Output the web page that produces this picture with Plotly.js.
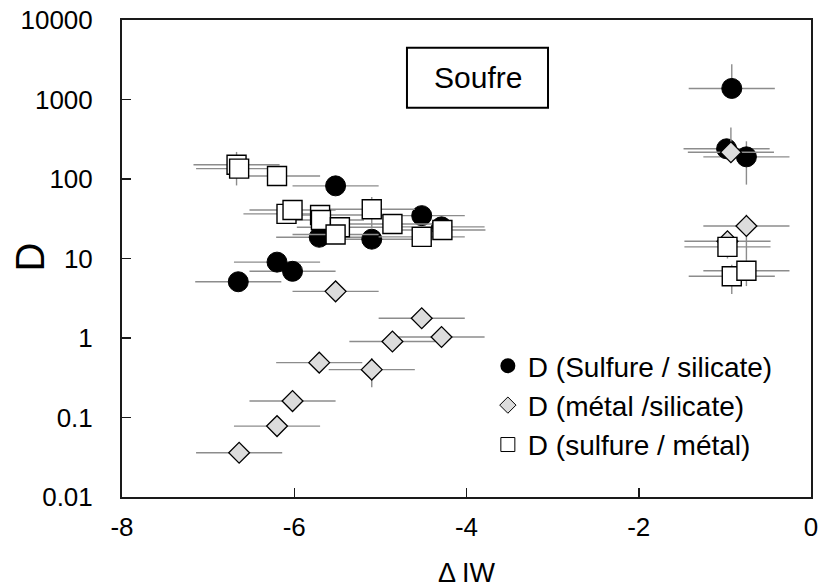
<!DOCTYPE html>
<html>
<head>
<meta charset="utf-8">
<script src="https://cdn.plot.ly/plotly-3.0.1.min.js"></script>
<style>html,body{margin:0;padding:0;background:#fff;}#chart{width:821px;height:588px;}</style>
</head>
<body>
<div id="chart"></div>
<script>
// D (Sulfure / silicate) – filled circles
const sulfSilX = [-6.65, -6.20, -6.02, -5.71, -5.52, -5.10, -4.52, -4.29, -0.98, -0.92, -0.75];
const sulfSilY = [5.1, 9.0, 6.9, 18.5, 82, 17.5, 34.6, 25, 240, 1378, 190];
const sulfSilXErr = [0.5, 0.5, 0.5, 0.5, 0.5, 0.5, 0.5, 0.5, 0.5, 0.5, 0.5];
const sulfSilYErrPlus = [0, 0, 0, 0, 0, 0, 0, 0, 0, 1400, 108];
const sulfSilYErrMinus = [0, 0, 0, 0, 0, 0, 0, 0, 0, 0, 105];

// D (métal /silicate) – grey diamonds
const metSilX = [-6.64, -6.20, -6.02, -5.71, -5.52, -5.10, -4.86, -4.52, -4.29, -0.97, -0.93, -0.75];
const metSilY = [0.036, 0.078, 0.161, 0.49, 3.86, 0.40, 0.905, 1.77, 1.03, 16.5, 217, 25.6];
const metSilXErr = [0.5, 0.5, 0.5, 0.5, 0.5, 0.5, 0.5, 0.5, 0.5, 0.5, 0.5, 0.5];
const metSilYErrPlus = [0, 0, 0, 0, 0, 0.16, 0, 0, 0, 0, 226, 10];
const metSilYErrMinus = [0, 0, 0, 0, 0, 0.16, 0, 0, 0, 0, 0, 16];

// D (sulfure / métal) – open squares
const sulfMetX = [-6.67, -6.64, -6.20, -6.09, -6.02, -5.70, -5.69, -5.47, -5.52, -5.10, -4.86, -4.52, -4.28, -0.97, -0.92, -0.75];
const sulfMetY = [151, 135, 109, 36.4, 40.8, 35.3, 30.5, 24.7, 20, 41.7, 27.2, 18.7, 22.8, 14.0, 5.97, 7.0];
const sulfMetXErr = [0.5, 0.5, 0.5, 0.5, 0.5, 0.5, 0.5, 0.5, 0.5, 0.5, 0.5, 0.5, 0.5, 0.5, 0.5, 0.5];
const sulfMetYErrPlus = [68, 0, 0, 0, 0, 0, 0, 0, 0, 17.5, 0, 0, 0, 0, 2.4, 2.5];
const sulfMetYErrMinus = [68, 0, 0, 0, 0, 0, 0, 0, 0, 17.5, 0, 0, 0, 4, 2.4, 2.5];

const seriesNames = ['D (Sulfure / silicate)', 'D (métal /silicate)', 'D (sulfure / métal)'];
const yTickVals = [0.01, 0.1, 1, 10, 100, 1000, 10000];
const yTickText = ['0.01', '0.1', '1', '10', '100', '1000', '10000'];
const xTickVals = [-8, -6, -4, -2, 0];
const xTickText = ['-8', '-6', '-4', '-2', '0'];
const xTitle = 'Δ IW';
const yTitle = 'D';
const panelTitle = 'Soufre';

const FONT = 'Liberation Sans, Arial, Helvetica, sans-serif';
const errCol = '#8c8c8c';

function errX(arr) { return {type: 'data', array: arr, visible: true, color: errCol, thickness: 1.4, width: 0}; }
function errY(p, m) { return {type: 'data', symmetric: false, array: p, arrayminus: m, visible: true, color: errCol, thickness: 1.4, width: 0}; }

const traces = [
  {x: sulfSilX, y: sulfSilY, type: 'scatter', mode: 'markers', showlegend: false,
   marker: {symbol: 'circle', size: 20, color: '#000', line: {color: '#000', width: 1}},
   error_x: errX(sulfSilXErr), error_y: errY(sulfSilYErrPlus, sulfSilYErrMinus)},
  {x: metSilX, y: metSilY, type: 'scatter', mode: 'markers', showlegend: false,
   marker: {symbol: 'diamond', size: 16, color: '#dcdcdc', line: {color: '#000', width: 1.3}},
   error_x: errX(metSilXErr), error_y: errY(metSilYErrPlus, metSilYErrMinus)},
  {x: sulfMetX, y: sulfMetY, type: 'scatter', mode: 'markers', showlegend: false,
   marker: {symbol: 'square', size: 19, color: '#fff', line: {color: '#000', width: 1.4}},
   error_x: errX(sulfMetXErr), error_y: errY(sulfMetYErrPlus, sulfMetYErrMinus)},
  // legend entries
  {x: [null], y: [null], type: 'scatter', mode: 'markers', name: seriesNames[0], legendgroup: 'a',
   marker: {symbol: 'circle', size: 15, color: '#000', line: {color: '#000', width: 0}}},
  {x: [null], y: [null], type: 'scatter', mode: 'markers', name: seriesNames[1], legendgroup: 'b',
   marker: {symbol: 'diamond', size: 12.5, color: '#dcdcdc', line: {color: '#000', width: 1}}},
  {x: [null], y: [null], type: 'scatter', mode: 'markers', name: seriesNames[2], legendgroup: 'c',
   marker: {symbol: 'square', size: 14, color: '#fff', line: {color: '#000', width: 1}}}
];

const axisCommon = {
  showline: true, mirror: true, linecolor: '#1a1a1a', linewidth: 2,
  ticks: 'inside', ticklen: 9, tickwidth: 1.5, tickcolor: '#1a1a1a',
  showgrid: false, zeroline: false,
  tickfont: {family: FONT, size: 26, color: '#000'}
};

const layout = {
  width: 821, height: 588,
  margin: {l: 122, r: 10, t: 20, b: 90.5},
  paper_bgcolor: '#fff', plot_bgcolor: '#fff',
  font: {family: FONT, color: '#000'},
  xaxis: Object.assign({}, axisCommon, {
    range: [-8, 0], tickvals: xTickVals, ticktext: xTickText,
    ticklabelstandoff: 6
  }),
  yaxis: Object.assign({}, axisCommon, {
    type: 'log', range: [-2, 4], tickvals: yTickVals, ticktext: yTickText,
    ticklabelstandoff: 22
  }),
  legend: {
    x: 0.531, y: 0.327, xanchor: 'left', yanchor: 'top',
    bgcolor: 'rgba(0,0,0,0)', borderwidth: 0,
    font: {family: FONT, size: 28, color: '#000'},
    traceorder: 'normal', itemsizing: 'trace'
  },
  shapes: [{
    type: 'rect', xref: 'paper', yref: 'paper',
    x0: 0.4136, x1: 0.6183, y0: 0.816, y1: 0.9417,
    line: {color: '#000', width: 2}, fillcolor: '#fff'
  }],
  annotations: [
    {text: panelTitle, xref: 'paper', yref: 'paper', x: 0.516, y: 0.879,
     xanchor: 'center', yanchor: 'middle', showarrow: false,
     font: {family: FONT, size: 30, color: '#000'}},
    {text: xTitle, xref: 'paper', yref: 'paper', x: 0.5, y: -0.16,
     xanchor: 'center', yanchor: 'middle', showarrow: false,
     font: {family: FONT, size: 27, color: '#000'}},
    {text: yTitle, xref: 'paper', yref: 'paper', x: -0.1335, y: 0.502, textangle: -90,
     xanchor: 'center', yanchor: 'middle', showarrow: false,
     font: {family: FONT, size: 40, color: '#000'}}
  ]
};

Plotly.newPlot('chart', traces, layout, {displayModeBar: false, staticPlot: true});
</script>
</body>
</html>
